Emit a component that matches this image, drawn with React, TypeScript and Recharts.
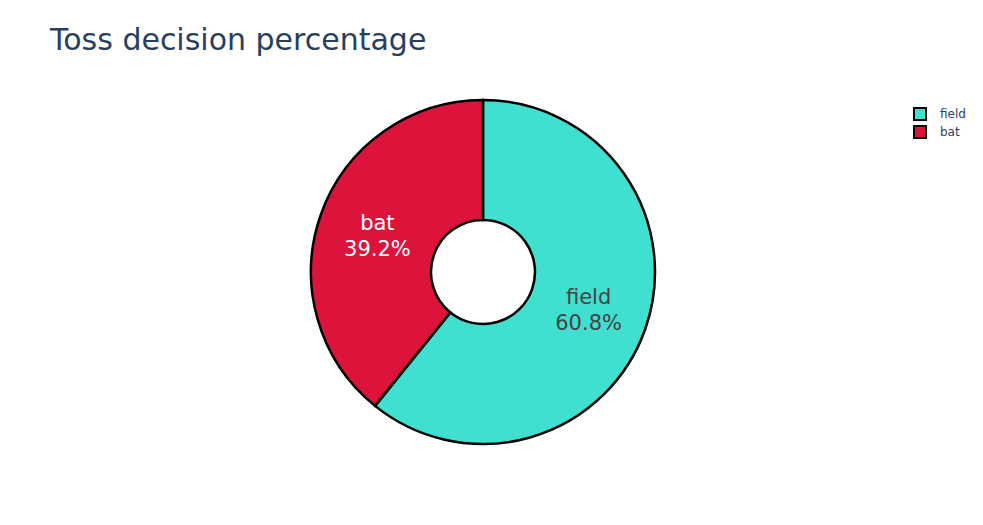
import { PieChart, Pie, Cell, Legend } from "recharts";

const decisions = ["field", "bat"];
const shares = [60.8, 39.2];
const colors = ["#40e0d0", "#dc143c"];
const labelColors = ["#444444", "#ffffff"];

const data = decisions.map((name, i) => ({ name, value: shares[i] }));

const FONT = "'DejaVu Sans', verdana, arial, sans-serif";
const RAD = Math.PI / 180;

function renderLabel(props: any) {
  const { cx, cy, midAngle, innerRadius, outerRadius, index, name, percent } = props;
  const r = (innerRadius + outerRadius) / 2;
  const x = cx + r * Math.cos(-midAngle * RAD);
  const y = cy + r * Math.sin(-midAngle * RAD);
  return (
    <text x={x} y={y} fill={labelColors[index]} textAnchor="middle" fontSize={21} fontFamily={FONT}>
      <tspan x={x} dy={-5}>{name}</tspan>
      <tspan x={x} dy={26}>{(percent * 100).toFixed(1)}%</tspan>
    </text>
  );
}

function renderLegend() {
  return (
    <div style={{ fontFamily: FONT, fontSize: 12, color: "#2a3f5f" }}>
      {data.map((d, i) => (
        <div key={d.name} style={{ display: "flex", alignItems: "center", height: 18 }}>
          <span
            style={{
              display: "inline-block",
              width: 10,
              height: 10,
              background: colors[i],
              border: "2px solid #000",
              marginRight: 13,
            }}
          />
          <span>{d.name}</span>
        </div>
      ))}
    </div>
  );
}

export default function App() {
  return (
    <div style={{ position: "absolute", left: 0, top: 0, width: 983, height: 525, background: "#fff" }}>
      <div
        style={{
          position: "absolute",
          left: 50,
          top: 22,
          fontFamily: FONT,
          fontSize: 30,
          lineHeight: "36px",
          color: "#2a3f5f",
          whiteSpace: "nowrap",
        }}
      >
        Toss decision percentage
      </div>
      <PieChart width={983} height={525}>
        <Pie
          data={data}
          dataKey="value"
          nameKey="name"
          cx={478}
          cy={267}
          innerRadius={52}
          outerRadius={172}
          startAngle={90}
          endAngle={-270}
          stroke="#000"
          strokeWidth={2.5}
          label={renderLabel}
          labelLine={false}
          isAnimationActive={false}
        >
          {data.map((d, i) => (
            <Cell key={d.name} fill={colors[i]} />
          ))}
        </Pie>
        <Legend
          content={renderLegend}
          layout="vertical"
          verticalAlign="top"
          align="right"
          wrapperStyle={{ top: 105, left: 913, width: 70 }}
        />
      </PieChart>
    </div>
  );
}
